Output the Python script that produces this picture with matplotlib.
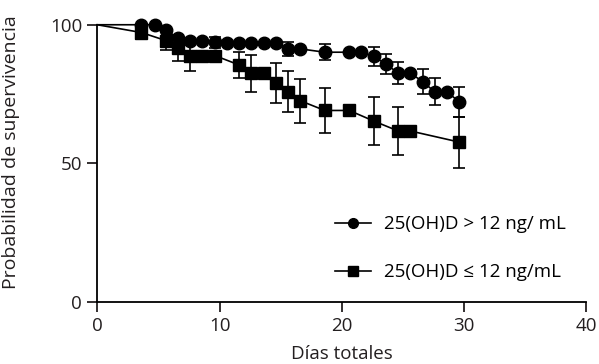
import numpy as np
import matplotlib
matplotlib.use("Agg")
import matplotlib.pyplot as plt

plt.rcParams['font.family'] = ['Open Sans', 'DejaVu Sans']

# 25(OH)D > 12 ng/mL (circles)
days_hi = [3.6, 4.7, 5.6, 6.6, 7.6, 8.6, 9.6, 10.6, 11.6, 12.6, 13.6, 14.6, 15.6,
           16.6, 18.6, 20.6, 21.6, 22.6, 23.6, 24.6, 25.6, 26.6, 27.6, 28.6, 29.6]
surv_hi = [100, 100, 98, 95.3, 94, 94.3, 93.7, 93.6, 93.6, 93.6, 93.6, 93.6, 91.3,
           91.3, 90.1, 90.1, 90.1, 88.6, 85.8, 82.6, 82.6, 79.5, 75.8, 75.8, 72.2]
err_hi = [0, 0, 0, 0, 0, 0, 2.0, 0, 0, 0, 0, 0, 2.6,
          0, 2.8, 0, 0, 3.4, 3.6, 4.0, 0, 4.5, 4.9, 0, 5.4]

# 25(OH)D <= 12 ng/mL (squares)
days_lo = [3.6, 5.6, 6.6, 7.6, 8.6, 9.6, 11.6, 12.6, 13.6, 14.6, 15.6, 16.6,
           18.6, 20.6, 22.6, 24.6, 25.6, 29.6]
surv_lo = [97.2, 94.3, 91.5, 88.9, 88.9, 88.9, 85.5, 82.5, 82.5, 79, 75.8, 72.6,
           69.1, 69.1, 65.3, 61.7, 61.7, 57.7]
err_lo = [2.3, 3.5, 4.7, 5.4, 0, 0, 4.8, 6.6, 0, 7.1, 7.4, 8.0,
          8.2, 0, 8.5, 8.8, 0, 9.2]

labels = ["25(OH)D > 12 ng/ mL", "25(OH)D \u2264 12 ng/mL"]

fig = plt.figure(figsize=(5.99, 3.64), dpi=100)
ax = fig.add_axes([0.1625, 0.17, 0.8165, 0.762])

lw = 1.2
fs = 13.5
for d, s, e, mk, lab, z in [(days_lo, surv_lo, err_lo, 's', labels[1], 3),
                            (days_hi, surv_hi, err_hi, 'o', labels[0], 4)]:
    d = np.array(d); s = np.array(s); e = np.array(e)
    # survival curve starts at (0, 100)
    ax.plot(np.r_[0, d], np.r_[100, s], color='black', lw=lw, zorder=z, clip_on=False)
    m = e > 0
    ax.errorbar(d[m], s[m], yerr=e[m], fmt='none', ecolor='black', elinewidth=lw,
                capsize=4.6, capthick=lw, zorder=z, clip_on=False)
    ax.plot(d, s, linestyle='none', marker=mk, ms=9, color='black', zorder=z + 0.5,
            clip_on=False)
    # legend proxy
    ax.plot([], [], color='black', lw=lw, marker=mk, ms=7, label=lab)

ax.set_xlim(0, 40)
ax.set_ylim(0, 100)
ax.set_xticks([0, 10, 20, 30, 40])
ax.set_yticks([0, 50, 100])
for side in ['top', 'right']:
    ax.spines[side].set_visible(False)
for side in ['left', 'bottom']:
    ax.spines[side].set_linewidth(1.3)
ax.tick_params(direction='out', length=7.5, width=1.3, labelsize=fs, colors='#231f20')
ax.set_xlabel("Días totales", fontsize=fs, color='#231f20', labelpad=7)
ax.set_ylabel("Probabilidad de supervivencia", fontsize=14, color='#231f20')
ax.yaxis.set_label_coords(-0.158, 0.54)

h, l = ax.get_legend_handles_labels()
ax.legend(h[::-1], l[::-1], loc='upper left', bbox_to_anchor=(0.47, 0.34),
          frameon=False, fontsize=fs, handlelength=1.95, labelspacing=1.6,
          handletextpad=0.7, borderaxespad=0)

fig.savefig("out.png", dpi=100)
